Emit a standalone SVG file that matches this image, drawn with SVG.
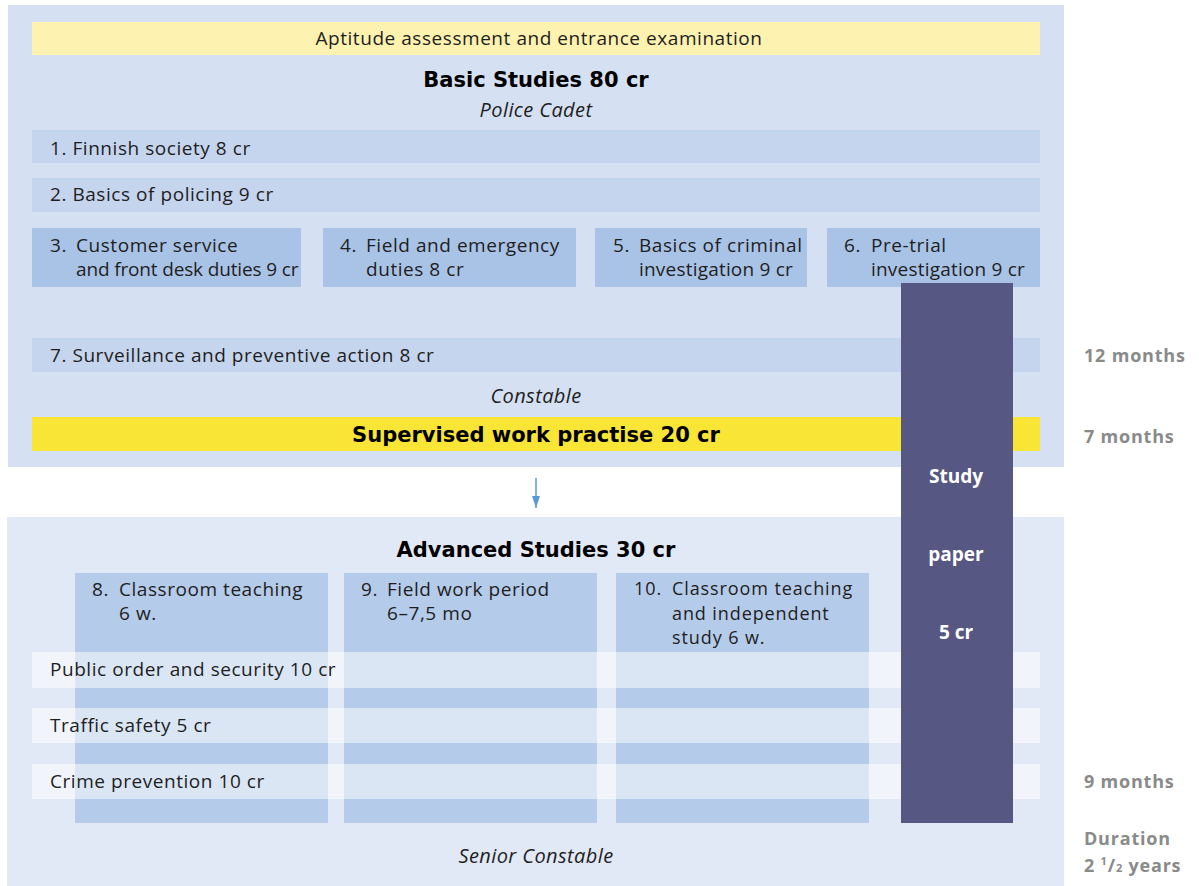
<svg xmlns="http://www.w3.org/2000/svg" width="1199" height="886" viewBox="0 0 1199 886">
<defs>
<style>
.t{font-family:"Open Sans","Liberation Sans",sans-serif;font-size:19px;letter-spacing:0.55px;fill:#1e1e1e}
.s{font-family:"Open Sans","Liberation Sans",sans-serif;font-size:18px;letter-spacing:0.9px;fill:#1e1e1e}
.b{font-family:"DejaVu Sans","Liberation Sans",sans-serif;font-size:21px;font-weight:bold;fill:#000}
.i{font-family:"Open Sans","Liberation Sans",sans-serif;font-size:20px;font-style:italic;letter-spacing:0.4px;fill:#1e1e1e}
.g{font-family:"Open Sans","Liberation Sans",sans-serif;font-size:18px;font-weight:bold;letter-spacing:0.8px;fill:#8a8a8a}
.w{font-family:"Open Sans","Liberation Sans",sans-serif;font-size:19px;font-weight:bold;fill:#fff}
.band{fill:#c6d5ee}
.box{fill:#a9c3e6}
.col{fill:#b5cbea}
.wb{fill:#fff;fill-opacity:0.52}
</style>
<marker id="ah" markerWidth="12" markerHeight="8" refX="12" refY="4" orient="auto" markerUnits="userSpaceOnUse" viewBox="0 0 12 8">
<path d="M0,0 L12,4 L0,8 Z" fill="#5b9bd5"/>
</marker>
</defs>

<g id="basic-panel">
<rect x="8" y="5" width="1056" height="462" fill="#d5e0f2"/>
</g>
<g id="advanced-panel">
<rect x="7" y="517" width="1057" height="369" fill="#e2e9f6"/>
</g>

<g id="aptitude">
<rect x="32" y="22" width="1008" height="33" fill="#fef2b0"/>
<text class="t" x="539" y="45" text-anchor="middle">Aptitude assessment and entrance examination</text>
</g>
<g id="basic-title">
<text class="b" x="536" y="87" text-anchor="middle">Basic Studies 80 cr</text>
<text class="i" x="536" y="117" text-anchor="middle">Police Cadet</text>
</g>
<g id="c1">
<rect class="band" x="32" y="130" width="1008" height="33"/>
<text class="t" x="50" y="155">1. Finnish society 8 cr</text>
</g>
<g id="c2">
<rect class="band" x="32" y="178" width="1008" height="34"/>
<text class="t" x="50" y="201">2. Basics of policing 9 cr</text>
</g>
<g id="c3">
<rect class="box" x="32" y="228" width="269" height="59"/>
<text class="t" x="50" y="252">3.</text>
<text class="t" x="76" y="252">Customer service</text>
<text class="t" x="76" y="276" style="letter-spacing:-0.15px">and front desk duties 9 cr</text>
</g>
<g id="c4">
<rect class="box" x="323" y="228" width="253" height="59"/>
<text class="t" x="340" y="252">4.</text>
<text class="t" x="366" y="252">Field and emergency</text>
<text class="t" x="366" y="276">duties 8 cr</text>
</g>
<g id="c5">
<rect class="box" x="595" y="228" width="212" height="59"/>
<text class="t" x="613" y="252">5.</text>
<text class="t" x="639" y="252">Basics of criminal</text>
<text class="t" x="639" y="276" style="letter-spacing:0.2px">investigation 9 cr</text>
</g>
<g id="c6">
<rect class="box" x="827" y="228" width="213" height="59"/>
<text class="t" x="844" y="252">6.</text>
<text class="t" x="871" y="252">Pre-trial</text>
<text class="t" x="871" y="276" style="letter-spacing:0.2px">investigation 9 cr</text>
</g>
<g id="c7">
<rect class="band" x="32" y="338" width="1008" height="34"/>
<text class="t" x="50" y="362">7. Surveillance and preventive action 8 cr</text>
</g>
<g id="constable">
<text class="i" x="536" y="403" text-anchor="middle">Constable</text>
</g>
<g id="practise">
<rect x="32" y="417" width="1008" height="34" fill="#f8e535"/>
<text class="b" x="536" y="442" text-anchor="middle">Supervised work practise 20 cr</text>
</g>

<g id="connectors">
<line x1="536" y1="478" x2="536" y2="508" stroke="#5b9bd5" stroke-width="1.5" marker-end="url(#ah)"/>
</g>

<g id="advanced-title">
<text class="b" x="536" y="557" text-anchor="middle">Advanced Studies 30 cr</text>
</g>
<g id="c8">
<rect class="col" x="75" y="573" width="253" height="250"/>
<text class="t" x="92" y="596">8.</text>
<text class="t" x="119" y="596">Classroom teaching</text>
<text class="t" x="119" y="620">6 w.</text>
</g>
<g id="c9">
<rect class="col" x="344" y="573" width="253" height="250"/>
<text class="t" x="361" y="596">9.</text>
<text class="t" x="387" y="596">Field work period</text>
<text class="t" x="387" y="620">6–7,5 mo</text>
</g>
<g id="c10">
<rect class="col" x="616" y="573" width="253" height="250"/>
<text class="s" x="634" y="595">10.</text>
<text class="s" x="672" y="595">Classroom teaching</text>
<text class="s" x="672" y="619.5">and independent</text>
<text class="s" x="672" y="644">study 6 w.</text>
</g>
<g id="public-order">
<rect class="wb" x="32" y="652" width="1008" height="36"/>
<text class="t" x="50" y="676">Public order and security 10 cr</text>
</g>
<g id="traffic">
<rect class="wb" x="32" y="708" width="1008" height="35"/>
<text class="t" x="50" y="732">Traffic safety 5 cr</text>
</g>
<g id="crime">
<rect class="wb" x="32" y="764" width="1008" height="35"/>
<text class="t" x="50" y="788">Crime prevention 10 cr</text>
</g>
<g id="senior">
<text class="i" x="536" y="863" text-anchor="middle">Senior Constable</text>
</g>

<g id="study-paper">
<rect x="901" y="283" width="112" height="540" fill="#565783"/>
<text class="w" x="956" y="483" text-anchor="middle">Study</text>
<text class="w" x="956" y="561" text-anchor="middle">paper</text>
<text class="w" x="956" y="639" text-anchor="middle">5 cr</text>
</g>

<g id="durations">
<text class="g" x="1084" y="362">12 months</text>
<text class="g" x="1084" y="443">7 months</text>
<text class="g" x="1084" y="788">9 months</text>
<text class="g" x="1084" y="845">Duration</text>
<text class="g" x="1084" y="872">2 <tspan font-size="11" dy="-7">1</tspan><tspan dy="7">/</tspan><tspan font-size="11">2</tspan> years</text>
</g>
</svg>
